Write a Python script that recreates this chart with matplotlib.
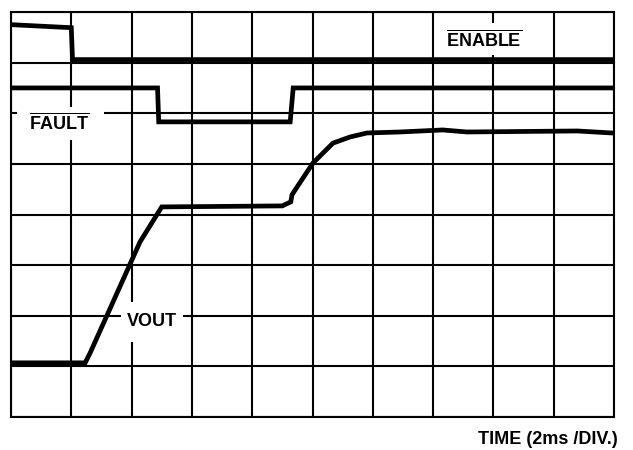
import matplotlib.pyplot as plt
from matplotlib.patches import Rectangle

plt.rcParams['font.family'] = ['Liberation Sans', 'DejaVu Sans']
plt.rcParams['mathtext.fontset'] = 'custom'
plt.rcParams['mathtext.bf'] = 'Liberation Sans:bold'
plt.rcParams['mathtext.rm'] = 'Liberation Sans'

# traces, in divisions
enable_t = [0, 1.0, 1.02, 10]
enable_v = [7.75, 7.69, 7.06, 7.06]

fault_t = [0, 2.43, 2.45, 4.63, 4.68, 10]
fault_v = [6.5, 6.5, 5.83, 5.83, 6.5, 6.5]

vout_t = [0, 1.23, 1.31, 2.14, 2.5, 4.5, 4.64, 4.66, 4.82, 5.01, 5.34,
          5.62, 5.9, 6.45, 7.16, 7.56, 9.39, 9.97]
vout_v = [1.07, 1.07, 1.26, 3.46, 4.15, 4.17, 4.25, 4.39, 4.68, 5.02, 5.41,
          5.53, 5.61, 5.63, 5.67, 5.63, 5.65, 5.61]

fig = plt.figure(figsize=(6.33, 4.5), dpi=100)
ax = fig.add_axes([11/633, 33/450, 603/633, 405/450])

ax.set_xlim(0, 10)
ax.set_ylim(0, 8)
ax.set_xticks(range(11))
ax.set_yticks(range(9))
ax.grid(True, color='black', lw=1.5, zorder=1)
ax.tick_params(length=0, labelbottom=False, labelleft=False)
ax.set_axisbelow(True)
for s in ax.spines.values():
    s.set_linewidth(1.5)

kw = dict(color='black', lw=3.4, solid_joinstyle='miter', zorder=5)
ax.plot(enable_t, enable_v, **kw)
ax.plot(fault_t, fault_v, **kw)
ax.plot(vout_t, vout_v, **kw)

# white patches behind the labels (they cut the grid lines)
for x0, y0, w, h in [(7.1, 7.15, 1.5, 0.64), (0.10, 5.47, 1.44, 0.66),
                     (1.82, 1.48, 1.03, 0.79)]:
    ax.add_patch(Rectangle((x0, y0), w, h, facecolor='white',
                           edgecolor='none', zorder=2))

ax.text(7.84, 7.45, r'$\overline{\mathbf{ENABLE}}$', fontsize=13,
        ha='center', va='center', zorder=3)
ax.text(0.81, 5.80, r'$\overline{\mathbf{FAULT}}$', fontsize=13,
        ha='center', va='center', zorder=3)
ax.text(2.34, 1.88, 'VOUT', fontsize=13, fontweight='bold',
        ha='center', va='center', zorder=3)

fig.text(618/633, 1 - 440/450, 'TIME (2ms /DIV.)', fontsize=13,
         fontweight='bold', ha='right', va='center')

fig.savefig('out.png', dpi=100)
